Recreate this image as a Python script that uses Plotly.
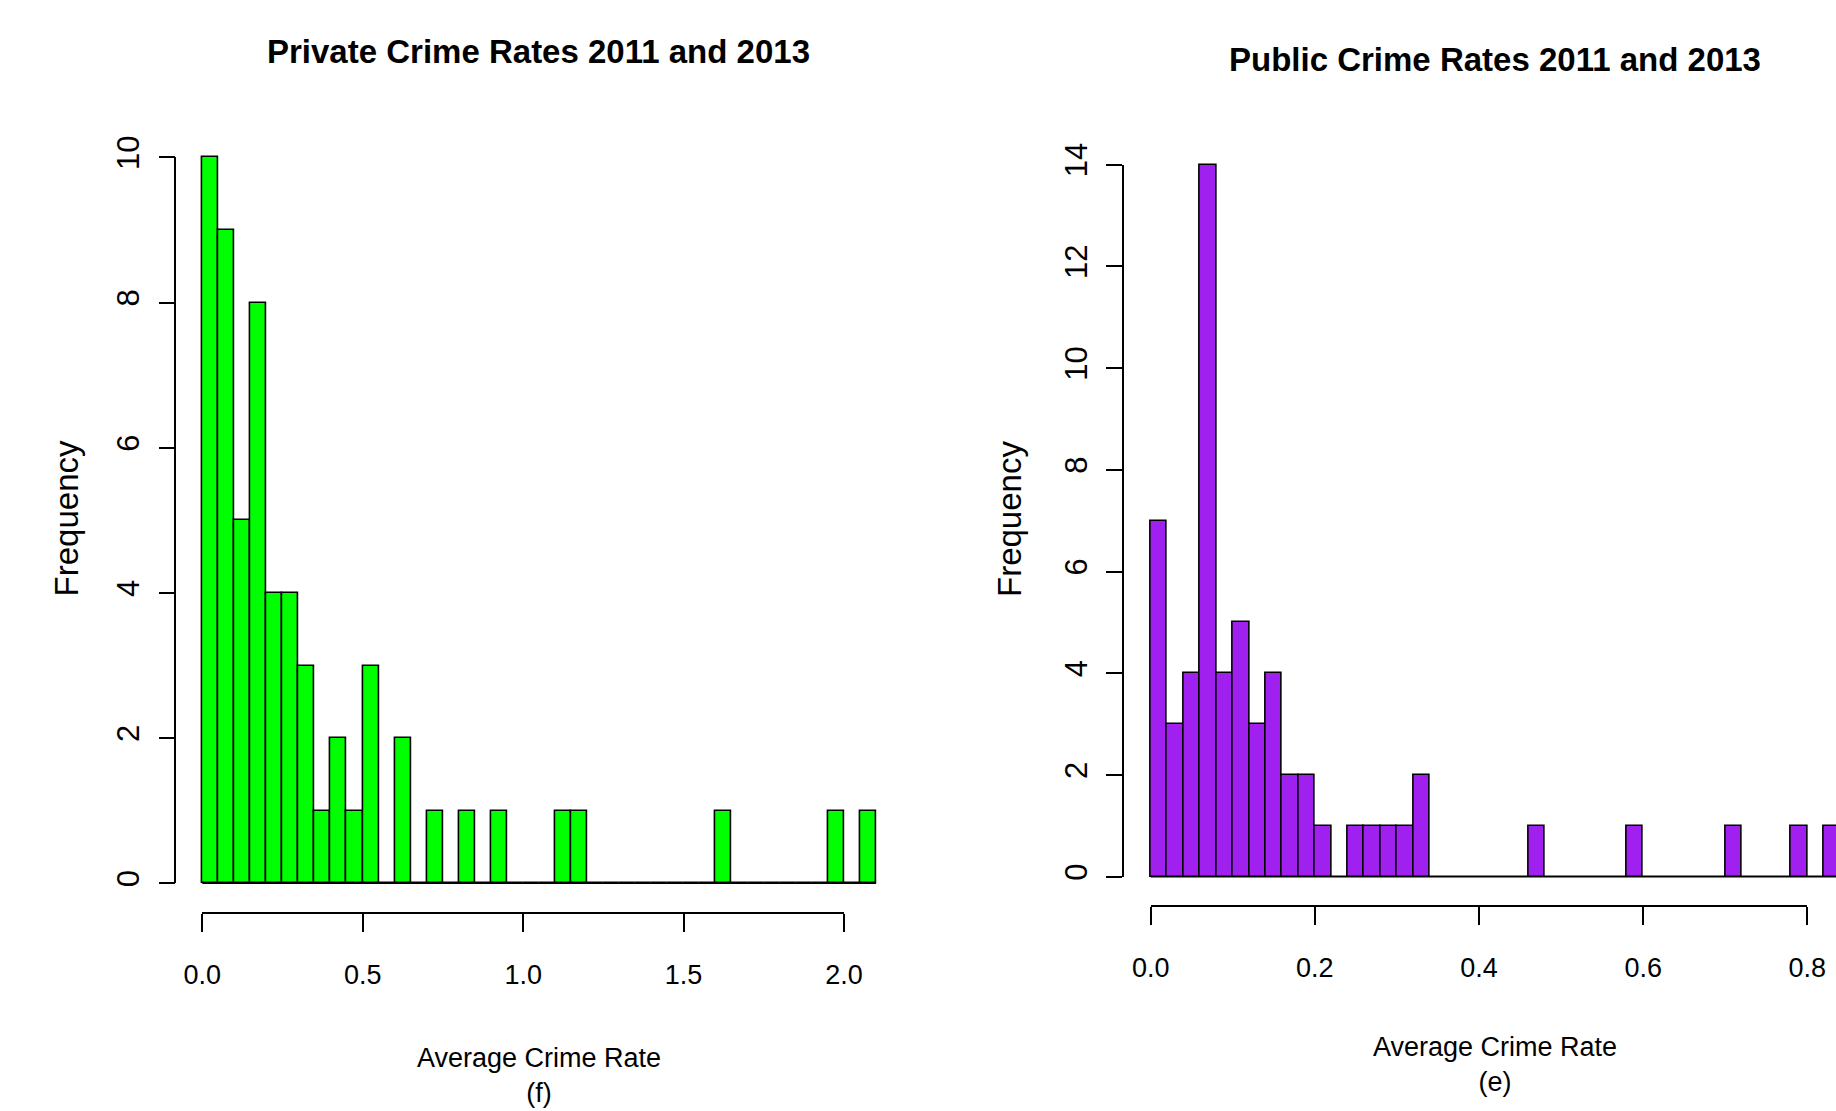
import plotly.graph_objects as go

W, H = 1836, 1111

# ---------------- data ----------------
private_bin_start = 0.0
private_bin_width = 0.05
private_counts = [10, 9, 5, 8, 4, 4, 3, 1, 2, 1,
                  3, 0, 2, 0, 1, 0, 1, 0, 1, 0,
                  0, 0, 1, 1, 0, 0, 0, 0, 0, 0,
                  0, 0, 1, 0, 0, 0, 0, 0, 0, 1,
                  0, 1]
private_xticks = [0.0, 0.5, 1.0, 1.5, 2.0]
private_xticklabels = ["0.0", "0.5", "1.0", "1.5", "2.0"]
private_yticks = [0, 2, 4, 6, 8, 10]

public_bin_start = 0.0
public_bin_width = 0.02
public_counts = [7, 3, 4, 14, 4, 5, 3, 4, 2, 2,
                 1, 0, 1, 1, 1, 1, 2, 0, 0, 0,
                 0, 0, 0, 1, 0, 0, 0, 0, 0, 1,
                 0, 0, 0, 0, 0, 1, 0, 0, 0, 1,
                 0, 1]
public_xticks = [0.0, 0.2, 0.4, 0.6, 0.8]
public_xticklabels = ["0.0", "0.2", "0.4", "0.6", "0.8"]
public_yticks = [0, 2, 4, 6, 8, 10, 12, 14]

# ---------------- layout geometry (pixels) ----------------
FONT = "Liberation Sans, Arial, Helvetica, sans-serif"

panels = [
    dict(counts=private_counts, start=private_bin_start, width=private_bin_width,
         xticks=private_xticks, xticklabels=private_xticklabels, yticks=private_yticks,
         color="#00FF00", title="Private Crime Rates 2011 and 2013", sub="(f)",
         x0px=202.3, xppu=320.85, y0px=883.3, yppu=72.6,
         xline_px=912.7, yline_px=175.3, xpad=0.1, ypad=0.5,
         title_xy=(538.6, 51.5), xtitle_xy=(538.6, 1075.0), ytitle_x=66.7, ytitle_y=518.7),
    dict(counts=public_counts, start=public_bin_start, width=public_bin_width,
         xticks=public_xticks, xticklabels=public_xticklabels, yticks=public_yticks,
         color="#A020F0", title="Public Crime Rates 2011 and 2013", sub="(e)",
         x0px=1150.7, xppu=820.75, y0px=876.7, yppu=50.86,
         xline_px=905.7, yline_px=1123.0, xpad=0.05, ypad=0.7,
         title_xy=(1495.0, 59.7), xtitle_xy=(1495.0, 1064.0), ytitle_x=1009.3, ytitle_y=518.7),
]

fig = go.Figure()
layout = dict(
    template="none",
    width=W, height=H, autosize=False,
    margin=dict(l=0, r=0, t=0, b=0, pad=0, autoexpand=False),
    paper_bgcolor="white", plot_bgcolor="rgba(0,0,0,0)",
    showlegend=False, bargap=0, annotations=[],
)

for i, p in enumerate(panels):
    n = len(p["counts"])
    edges = [p["start"] + k * p["width"] for k in range(n + 1)]
    centers = [(edges[k] + edges[k + 1]) / 2 for k in range(n)]
    data_ax = 2 * i + 1      # axes holding bars
    frame_ax = 2 * i + 2     # detached R-style axes
    xa, ya = f"x{data_ax}", f"y{data_ax}"
    xf, yf = f"x{frame_ax}", f"y{frame_ax}"

    fig.add_trace(go.Bar(
        x=centers, y=p["counts"], width=p["width"],
        marker=dict(color=p["color"], line=dict(color="black", width=1.6)),
        xaxis=xa, yaxis=ya, hoverinfo="skip",
    ))
    fig.add_trace(go.Scatter(
        x=[edges[0], edges[-1]], y=[0, 0], mode="lines",
        line=dict(color="black", width=1.6), xaxis=xa, yaxis=ya, hoverinfo="skip",
    ))
    fig.add_trace(go.Scatter(x=[None], y=[None], mode="markers", xaxis=xf, yaxis=yf,
                             hoverinfo="skip"))

    # data axes range / domain
    xmin = p["start"] - p["xpad"]
    xmax_data = edges[-1] + p["xpad"]
    left_px = p["x0px"] + xmin * p["xppu"]
    right_px = p["x0px"] + xmax_data * p["xppu"]
    if right_px > W:
        right_px = W
        xmax_data = (W - p["x0px"]) / p["xppu"]
    ymax = max(p["counts"]) + p["ypad"]
    ymin = -p["ypad"]
    bot_px = p["y0px"] - ymin * p["yppu"]
    top_px = p["y0px"] - ymax * p["yppu"]

    layout[f"xaxis{data_ax}"] = dict(
        domain=[left_px / W, right_px / W], range=[xmin, xmax_data], anchor=ya,
        visible=False, fixedrange=True, automargin=False)
    layout[f"yaxis{data_ax}"] = dict(
        domain=[1 - bot_px / H, 1 - top_px / H], range=[ymin, ymax], anchor=xa,
        visible=False, fixedrange=True, automargin=False)

    # frame axes (line spans first to last tick)
    xt0, xt1 = p["xticks"][0], p["xticks"][-1]
    yt0, yt1 = p["yticks"][0], p["yticks"][-1]
    fx0 = p["x0px"] + xt0 * p["xppu"]
    fx1 = p["x0px"] + xt1 * p["xppu"]
    fy0 = p["y0px"] - yt0 * p["yppu"]
    fy1 = p["y0px"] - yt1 * p["yppu"]
    layout[f"xaxis{frame_ax}"] = dict(
        domain=[fx0 / W, fx1 / W], range=[xt0, xt1], anchor="free",
        position=1 - p["xline_px"] / H, showline=True, linecolor="black", linewidth=1.6,
        ticks="outside", ticklen=18, tickwidth=1.6, tickcolor="black",
        tickvals=p["xticks"], ticktext=p["xticklabels"], showgrid=False, zeroline=False,
        tickfont=dict(family=FONT, size=27, color="black"), ticklabelstandoff=20,
        fixedrange=True, automargin=False)
    layout[f"yaxis{frame_ax}"] = dict(
        domain=[1 - fy0 / H, 1 - fy1 / H], range=[yt0, yt1], anchor="free",
        position=p["yline_px"] / W, showline=True, linecolor="black", linewidth=1.6,
        ticks="outside", ticklen=16, tickwidth=1.6, tickcolor="black",
        tickvals=p["yticks"], ticktext=[str(v) for v in p["yticks"]],
        showgrid=False, zeroline=False, tickangle=-90,
        tickfont=dict(family=FONT, size=31, color="black"), ticklabelstandoff=7,
        fixedrange=True, automargin=False)

    tx, ty = p["title_xy"]
    layout["annotations"].append(dict(
        text=f"<b>{p['title']}</b>", x=tx / W, y=1 - ty / H, xref="paper", yref="paper",
        showarrow=False, xanchor="center", yanchor="middle",
        font=dict(family=FONT, size=33, color="black")))
    ax_, ay_ = p["xtitle_xy"]
    layout["annotations"].append(dict(
        text=f"Average Crime Rate<br>{p['sub']}", x=ax_ / W, y=1 - ay_ / H,
        xref="paper", yref="paper", showarrow=False, xanchor="center", yanchor="middle",
        font=dict(family=FONT, size=27, color="black")))
    layout["annotations"].append(dict(
        text="Frequency", x=p["ytitle_x"] / W, y=1 - p["ytitle_y"] / H,
        xref="paper", yref="paper", showarrow=False, textangle=-90,
        xanchor="center", yanchor="middle",
        font=dict(family=FONT, size=33, color="black")))

fig.update_layout(**layout)
fig.write_html("out.html")
